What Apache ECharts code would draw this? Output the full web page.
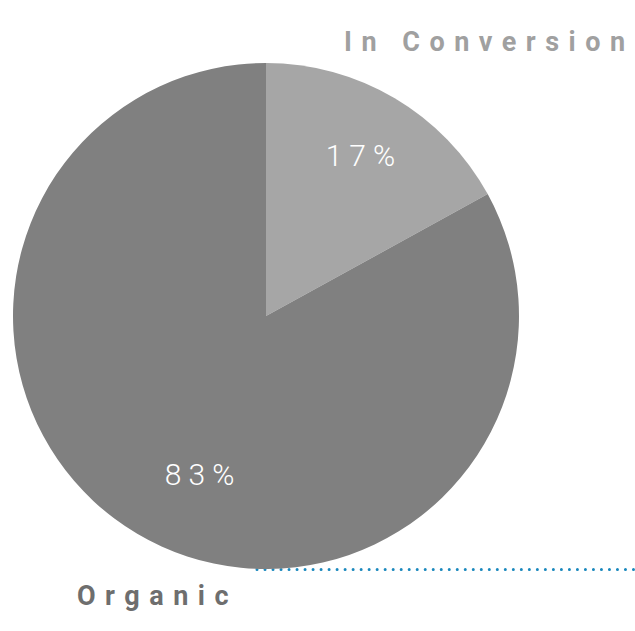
<!DOCTYPE html>
<html>
<head>
<meta charset="utf-8">
<script src="https://cdn.jsdelivr.net/npm/echarts@6/dist/echarts.min.js"></script>
<style>
html,body{margin:0;padding:0;background:#fff;}
#chart{width:635px;height:631px;}
</style>
</head>
<body>
<div id="chart"></div>
<script>
// Data
const categories = ['In Conversion', 'Organic'];
const values = [17, 83];
const sliceColors = ['#a6a6a6', '#808080'];
const labelOffsets = [[32, -49], [3, 47]];

const chart = echarts.init(document.getElementById('chart'), null, {renderer: 'svg', width: 635, height: 631});

const option = {
  animation: false,
  backgroundColor: '#ffffff',
  series: [{
    type: 'pie',
    center: [266, 316],
    radius: [0, 253],
    startAngle: 90,
    clockwise: true,
    silent: true,
    avoidLabelOverlap: false,
    labelLine: {show: false},
    data: categories.map((c, i) => ({
      name: c,
      value: values[i],
      itemStyle: {color: sliceColors[i]},
      label: {offset: labelOffsets[i]}
    })),
    label: {
      show: true,
      position: 'inside',
      formatter: p => p.value + '%',
      color: '#ffffff',
      fontFamily: 'Roboto',
      fontWeight: 300,
      fontSize: 30
    },
    emphasis: {disabled: true}
  }],
  graphic: [
    {
      type: 'text', left: 344, top: 28,
      style: {text: categories[0], fill: '#a0a0a0', font: 'bold 27px Roboto'}
    },
    {
      type: 'text', left: 77, top: 582,
      style: {text: categories[1], fill: '#6e6e6e', font: 'bold 27px Roboto'}
    },
    {
      type: 'line', silent: true,
      shape: {x1: 257, y1: 569.5, x2: 635, y2: 569.5},
      style: {stroke: '#1a88bd', lineWidth: 3, lineDash: [0.01, 8], lineCap: 'round'}
    }
  ]
};
chart.setOption(option);

function spacing() {
  document.querySelectorAll('#chart svg text').forEach(t => {
    const s = t.textContent;
    if (s === categories[0] || s === categories[1]) t.style.letterSpacing = '9.5px';
    else if (/%$/.test(s)) t.style.letterSpacing = '7px';
  });
}
chart.on('finished', spacing);
spacing();
</script>
</body>
</html>
